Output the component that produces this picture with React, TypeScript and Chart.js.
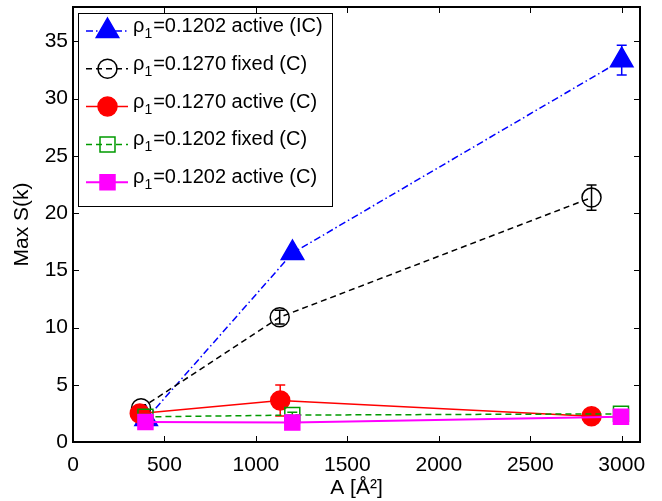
import React, { useEffect, useRef } from "react";
import { Chart, registerables } from "chart.js";

Chart.register(...registerables);

const FONT = "'Liberation Sans', Arial, Helvetica, sans-serif";

// series: rho1=0.1202 active (IC)
const blueX = [400, 1200, 3000];
const blueY = [2.0, 16.5, 33.35];
const blueErr = [0.2, 0.3, 1.3];

// rho1=0.1270 fixed (C)
const blackX = [372, 1130, 2835];
const blackY = [2.95, 10.9, 21.35];
const blackErr = [0.3, 0.6, 1.1];

// rho1=0.1270 active (C)
const redX = [365, 1133, 2835];
const redY = [2.5, 3.62, 2.26];
const redErr = [0.3, 1.35, 0.2];

// rho1=0.1202 fixed (C)
const greenX = [396, 1199, 2996];
const greenY = [2.2, 2.35, 2.46];
const greenErr = [0.2, 0.25, 0.2];

// rho1=0.1202 active (C)
const magX = [396, 1199, 2996];
const magY = [1.75, 1.7, 2.2];
const magErr = [0, 0, 0];

const legendValues = ["0.1202", "0.1270", "0.1270", "0.1202", "0.1202"];
const legendSuffix = ["active (IC)", "fixed (C)", "active (C)", "fixed (C)", "active (C)"];

const xTickValues = [0, 500, 1000, 1500, 2000, 2500, 3000];
const yTickValues = [0, 5, 10, 15, 20, 25, 30, 35];

const BLUE = "#0000ff";
const BLACK = "#000000";
const RED = "#ff0000";
const GREEN = "#009a00";
const MAGENTA = "#ff00ff";

type Style = {
  color: string;
  dash: number[];
  lw: number;
  marker: "triangle" | "circle" | "rect";
  fill: boolean;
  radius: number;
};

const styles: Style[] = [
  { color: BLUE, dash: [7, 3, 1.5, 3], lw: 1.5, marker: "triangle", fill: true, radius: 13 },
  { color: BLACK, dash: [6, 4], lw: 1.5, marker: "circle", fill: false, radius: 9.5 },
  { color: RED, dash: [], lw: 1.5, marker: "circle", fill: true, radius: 9.5 },
  { color: GREEN, dash: [6, 4], lw: 1.5, marker: "rect", fill: false, radius: 10.6 },
  { color: MAGENTA, dash: [], lw: 2, marker: "rect", fill: true, radius: 10.6 },
];

const seriesX = [blueX, blackX, redX, greenX, magX];
const seriesY = [blueY, blackY, redY, greenY, magY];
const seriesErr = [blueErr, blackErr, redErr, greenErr, magErr];

function drawMarker(ctx: CanvasRenderingContext2D, s: Style, x: number, y: number) {
  ctx.save();
  ctx.setLineDash([]);
  ctx.strokeStyle = s.color;
  ctx.fillStyle = s.color;
  ctx.lineWidth = 1.5;
  ctx.beginPath();
  const r = s.radius;
  if (s.marker === "triangle") {
    ctx.moveTo(x, y - r);
    ctx.lineTo(x + r * 0.866, y + r * 0.5);
    ctx.lineTo(x - r * 0.866, y + r * 0.5);
    ctx.closePath();
  } else if (s.marker === "circle") {
    ctx.arc(x, y, r, 0, Math.PI * 2);
  } else {
    const h = r * Math.SQRT1_2;
    ctx.rect(x - h, y - h, 2 * h, 2 * h);
  }
  if (s.fill) ctx.fill();
  ctx.stroke();
  ctx.restore();
}

const errorBarPlugin = {
  id: "errorBars",
  afterDatasetDraw(chart: any, args: any) {
    const i = args.index;
    const errs = seriesErr[i];
    const s = styles[i];
    const ctx = chart.ctx as CanvasRenderingContext2D;
    const xs = chart.scales.x;
    const ys = chart.scales.y;
    ctx.save();
    ctx.strokeStyle = s.color;
    ctx.lineWidth = 1.5;
    ctx.setLineDash([]);
    seriesX[i].forEach((xv, j) => {
      const e = errs[j];
      if (!e) return;
      const px = xs.getPixelForValue(xv);
      const top = ys.getPixelForValue(seriesY[i][j] + e);
      const bot = ys.getPixelForValue(seriesY[i][j] - e);
      ctx.beginPath();
      ctx.moveTo(px, top);
      ctx.lineTo(px, bot);
      ctx.moveTo(px - 5, top);
      ctx.lineTo(px + 5, top);
      ctx.moveTo(px - 5, bot);
      ctx.lineTo(px + 5, bot);
      ctx.stroke();
    });
    ctx.restore();
  },
};

const framePlugin = {
  id: "frame",
  afterDatasetsDraw(chart: any) {
    const ctx = chart.ctx as CanvasRenderingContext2D;
    const { left, right, top, bottom } = chart.chartArea;
    const xs = chart.scales.x;
    const ys = chart.scales.y;
    ctx.save();
    ctx.setLineDash([]);
    ctx.strokeStyle = "#000";
    ctx.lineWidth = 1;
    const tl = 6;
    ctx.beginPath();
    xTickValues.forEach((v) => {
      const p = Math.round(xs.getPixelForValue(v)) + 0.5;
      ctx.moveTo(p, bottom);
      ctx.lineTo(p, bottom - tl);
      ctx.moveTo(p, top);
      ctx.lineTo(p, top + tl);
    });
    yTickValues.forEach((v) => {
      const p = Math.round(ys.getPixelForValue(v)) + 0.5;
      ctx.moveTo(left, p);
      ctx.lineTo(left + tl, p);
      ctx.moveTo(right, p);
      ctx.lineTo(right - tl, p);
    });
    ctx.stroke();
    ctx.lineWidth = 2;
    ctx.strokeRect(left, top, right - left, bottom - top);
    ctx.restore();
  },
};

const legendPlugin = {
  id: "matlabLegend",
  afterDraw(chart: any) {
    const ctx = chart.ctx as CanvasRenderingContext2D;
    const bx = 78, by = 13, bw = 254, bh = 193;
    ctx.save();
    ctx.fillStyle = "#fff";
    ctx.fillRect(bx, by, bw, bh);
    ctx.strokeStyle = "#000";
    ctx.lineWidth = 1;
    ctx.strokeRect(bx + 0.5, by + 0.5, bw, bh);
    styles.forEach((s, i) => {
      const ry = 31 + 37.8 * i;
      ctx.save();
      ctx.strokeStyle = s.color;
      ctx.lineWidth = s.lw;
      ctx.setLineDash(s.dash);
      ctx.beginPath();
      ctx.moveTo(86, ry);
      ctx.lineTo(128, ry);
      ctx.stroke();
      ctx.restore();
      drawMarker(ctx, s, 107.5, ry);
      ctx.fillStyle = "#000";
      ctx.textBaseline = "alphabetic";
      ctx.textAlign = "left";
      ctx.font = `20px ${FONT}`;
      let tx = 133;
      const base = ry + 1;
      ctx.fillText("ρ", tx, base);
      tx += ctx.measureText("ρ").width;
      ctx.font = `14px ${FONT}`;
      ctx.fillText("1", tx, base + 6);
      tx += ctx.measureText("1").width + 1;
      ctx.font = `20px ${FONT}`;
      ctx.fillText(`=${legendValues[i]} ${legendSuffix[i]}`, tx, base);
    });
    ctx.restore();
  },
};

export default function App() {
  const ref = useRef<HTMLCanvasElement | null>(null);
  useEffect(() => {
    if (!ref.current) return;
    const datasets = styles.map((s, i) => ({
      label: `ρ1=${legendValues[i]} ${legendSuffix[i]}`,
      data: seriesX[i].map((x, j) => ({ x, y: seriesY[i][j] })),
      borderColor: s.color,
      backgroundColor: s.fill ? s.color : "rgba(0,0,0,0)",
      borderWidth: s.lw,
      borderDash: s.dash,
      pointStyle: s.marker,
      pointRadius: s.radius,
      pointBorderColor: s.color,
      pointBackgroundColor: s.fill ? s.color : "rgba(0,0,0,0)",
      pointBorderWidth: 1.5,
      pointHoverRadius: s.radius,
      tension: 0,
      fill: false,
      clip: false,
      order: 5 - i,
    }));
    const tickFont = { size: 21, family: FONT };
    const chart = new Chart(ref.current, {
      type: "line",
      data: { datasets },
      options: {
        animation: false,
        responsive: false,
        maintainAspectRatio: false,
        layout: { autoPadding: false, padding: { top: 7, right: 22, left: 0, bottom: 0 } },
        plugins: { legend: { display: false }, tooltip: { enabled: false } },
        scales: {
          x: {
            type: "linear",
            min: 0,
            max: 3100,
            afterBuildTicks: (s: any) => {
              s.ticks = xTickValues.map((v) => ({ value: v }));
            },
            ticks: {
              padding: 11,
              color: "#000",
              font: tickFont,
              maxRotation: 0,
              autoSkip: false,
              callback: (v: any) => String(v),
            },
            grid: { display: false, drawTicks: false },
            border: { display: false },
            title: {
              display: true,
              text: "A [Å²]",
              color: "#000",
              font: tickFont,
              padding: { top: 0, bottom: 0 },
            },
            afterFit: (s: any) => {
              s.height = 59;
              s.paddingLeft = 0;
              s.paddingRight = 0;
            },
          },
          y: {
            type: "linear",
            min: 0,
            max: 38,
            afterBuildTicks: (s: any) => {
              s.ticks = yTickValues.map((v) => ({ value: v }));
            },
            ticks: {
              padding: 5,
              color: "#000",
              font: { size: 21, family: FONT, lineHeight: 0.5 },
              autoSkip: false,
              callback: (v: any) => String(v),
            },
            grid: { display: false, drawTicks: false },
            border: { display: false },
            title: {
              display: true,
              text: "Max S(k)",
              color: "#000",
              font: tickFont,
              padding: { top: 10, bottom: 0 },
            },
            afterFit: (s: any) => {
              s.width = 73;
              s.paddingTop = 0;
              s.paddingBottom = 0;
            },
          },
        },
      } as any,
      plugins: [errorBarPlugin, framePlugin, legendPlugin],
    });
    return () => chart.destroy();
  }, []);
  return (
    <div style={{ position: "fixed", left: 0, top: 0, width: 662, height: 501, background: "#fff" }}>
      <canvas ref={ref} width={662} height={501} style={{ display: "block" }} />
    </div>
  );
}
